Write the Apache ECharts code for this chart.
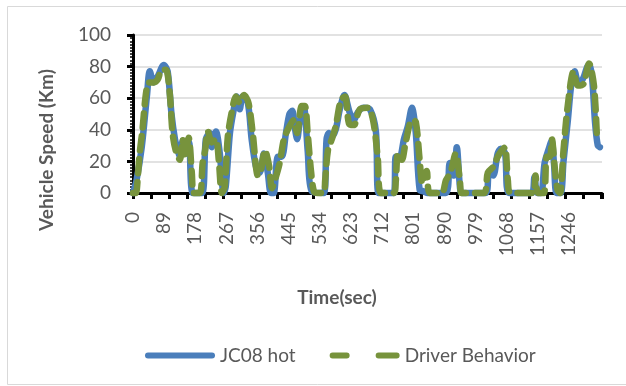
<!DOCTYPE html>
<html>
<head>
<meta charset="utf-8">
<script src="https://cdn.jsdelivr.net/npm/echarts@6/dist/echarts.min.js"></script>
<style>html,body{margin:0;padding:0;background:#fff}#c{width:626px;height:386px}</style>
</head>
<body>
<div id="c"></div>
<script>
// JC08 hot (time in sec, speed)
var jc08Time = [0,10,25,40,48,59,71,88,99,110,120,128,134,142,151,160,171,197,208,219,225,237,248,259,265,277,288,296,305,313,328,339,351,362,374,385,394,402,414,425,437,447,455,462,469,477,488,499,511,545,553,560,568,579,591,604,619,631,642,659,677,694,702,745,751,762,774,785,797,808,819,831,842,894,905,917,925,934,939,1008,1017,1029,1042,1051,1063,1074,1139,1147,1155,1166,1176,1188,1196,1203,1210,1222,1230,1242,1253,1262,1272,1285,1298,1304,1312,1320,1328,1334];
var jc08Speed = [0,8,29,62,77,70,74,81,77,50,34,27,23,33,25,32,0,0,34,38,29,39,25,0,4,38,53,61,53,61,57,34,17,13,25,13,0,0,23,23,38,50,52,42,34,46,54,27,1,0,34,38,36,40,53,62,51,46,51,54,53,39,0,0,23,23,34,42,54,38,2,1,0,0,19,11,29,4,0,0,13,11,25,28,25,0,0,10,0,0,19,28,33,18,0,0,20,45,70,77,70,72,80,81,72,45,30,29];
// Driver Behavior
var drvTime = [0,8,14,19,27,37,46,59,71,82,94,105,113,122,134,142,149,159,168,174,191,199,206,214,225,237,245,254,262,271,282,294,305,317,330,342,357,366,377,389,397,408,419,431,442,459,469,482,491,499,509,517,528,545,549,557,568,579,594,606,617,631,648,671,686,699,709,745,751,757,768,779,797,808,819,827,839,848,882,894,907,922,934,939,1002,1014,1031,1042,1054,1063,1071,1079,1143,1150,1157,1174,1182,1191,1197,1205,1213,1220,1230,1242,1259,1271,1287,1303,1317,1325];
var drvSpeed = [0,0,11,25,40,63,70,70,72,78,78,63,38,27,21,34,23,35,13,0,0,19,27,39,32,34,21,0,4,36,51,61,57,62,57,38,11,15,27,17,3,10,19,34,40,46,38,55,55,38,13,1,0,0,8,27,34,42,59,61,44,43,53,54,46,23,0,0,8,25,21,32,46,45,21,6,14,0,0,8,13,25,8,0,0,13,17,23,27,29,8,0,0,11,0,0,23,23,34,16,2,0,27,55,77,68,69,82,68,38];
// axis ticks
var xTickLabels = [0,89,178,267,356,445,534,623,712,801,890,979,1068,1157,1246];
var yTicks = [0,20,40,60,80,100];
var seriesNames = ['JC08 hot','Driver Behavior'];

function pairs(t, v){ var out=[]; for (var i=0;i<t.length;i++) out.push([t[i], v[i]]); return out; }

var FONT = 'Lato';
var GRAY = '#595959';
var solidIcon = 'path://M3,0 L67,0 A3,3 0 0 1 67,6 L3,6 A3,3 0 0 1 3,0 Z';
var dashIcon = 'path://M3,0 L17,0 A3,3 0 0 1 17,6 L3,6 A3,3 0 0 1 3,0 Z M49,0 L67,0 A3,3 0 0 1 67,6 L49,6 A3,3 0 0 1 49,0 Z';
var chart = echarts.init(document.getElementById('c'), null, {renderer:'canvas'});
chart.setOption({
  backgroundColor:'#fff',
  animation:false,
  grid:{left:133, right:24, top:35, bottom:193, containLabel:false},
  xAxis:[{
    type:'value', min:0, max:1340, interval:89,
    axisLine:{show:true, onZero:false, lineStyle:{color:'#000', width:3}},
    axisTick:{show:false},
    splitLine:{show:false},
    axisLabel:{rotate:90, margin:19, fontFamily:FONT, fontSize:19, color:GRAY,
      formatter:function(v){ return xTickLabels.indexOf(v) >= 0 ? String(v) : ''; }}
  },{
    type:'value', min:0, max:1340, interval:51.5, position:'bottom',
    axisLine:{show:false}, splitLine:{show:false}, axisLabel:{show:false},
    axisTick:{show:true, length:6, lineStyle:{color:'#000', width:3}}
  }],
  yAxis:{
    type:'value', min:yTicks[0], max:yTicks[yTicks.length-1], interval:20,
    axisLine:{show:true, lineStyle:{color:'#000', width:3}},
    axisTick:{show:true, length:6, lineStyle:{color:'#000', width:3}},
    minorTick:{show:true, splitNumber:10, length:3, lineStyle:{color:'#000', width:1.5}},
    splitLine:{show:true, lineStyle:{color:'#d9d9d9', width:1.5}},
    axisLabel:{margin:22, fontFamily:FONT, fontSize:19, color:GRAY}
  },
  legend:{
    left:140, top:341, itemWidth:70, itemHeight:6, itemGap:34,
    textStyle:{fontFamily:FONT, fontSize:19, color:GRAY},
    data:[{name:seriesNames[0], icon:solidIcon},{name:seriesNames[1], icon:dashIcon}]
  },
  graphic:[
    {type:'rect', shape:{x:7.5, y:6.5, width:650, height:378}, style:{fill:'none', stroke:'#d9d9d9', lineWidth:1}, silent:true, z:-10},
    {type:'text', x:47, y:150, rotation:Math.PI/2, style:{text:'Vehicle Speed (Km)', font:'bold 19px Lato', fill:GRAY, textAlign:'center', textVerticalAlign:'middle'}},
    {type:'text', x:337, y:298, style:{text:'Time(sec)', font:'bold 19px Lato', fill:GRAY, textAlign:'center', textVerticalAlign:'middle'}}
  ],
  series:[{
    name:seriesNames[0], type:'line', smooth:0.3, symbol:'none', clip:false, xAxisIndex:0,
    data:pairs(jc08Time, jc08Speed),
    itemStyle:{color:'#4a7ebb'},
    lineStyle:{color:'#4a7ebb', width:6.5, cap:'round', join:'round'}, z:2
  },{
    name:seriesNames[1], type:'line', smooth:0.3, symbol:'none', clip:false, xAxisIndex:0,
    data:pairs(drvTime, drvSpeed),
    itemStyle:{color:'#77933c'},
    lineStyle:{color:'#77933c', width:6.5, type:[14,9], cap:'round', join:'round'}, z:3
  }]
});
</script>
</body>
</html>
